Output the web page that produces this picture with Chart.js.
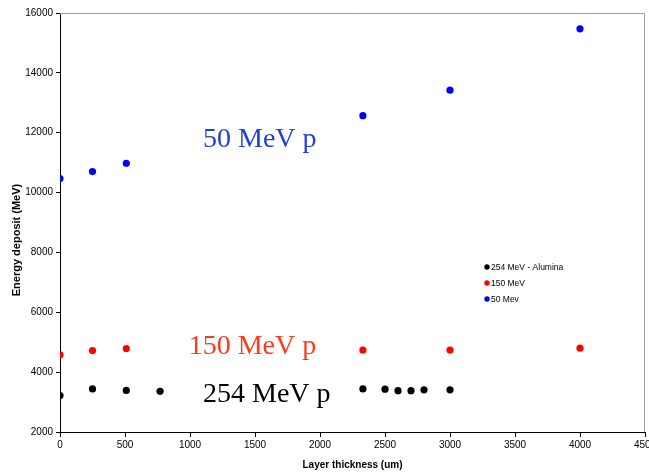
<!DOCTYPE html>
<html>
<head>
<meta charset="utf-8">
<script src="https://cdn.jsdelivr.net/npm/chart.js@4/dist/chart.umd.min.js"></script>
<style>
  html, body { margin: 0; padding: 0; background: #fff; }
  #wrap { width: 649px; height: 472px; }
</style>
</head>
<body>
<div id="wrap"><canvas id="energie"></canvas></div>
<script>
// thickness (um) / energy deposit (MeV)
const x254 = [0, 250, 510, 770, 2330, 2500, 2600, 2700, 2800, 3000];
const y254 = [3220, 3440, 3390, 3360, 3440, 3430, 3380, 3380, 3410, 3410];
const x150 = [0, 250, 510, 2330, 3000, 4000];
const y150 = [4580, 4720, 4790, 4740, 4740, 4800];
const x50 = [0, 250, 510, 2330, 3000, 4000];
const y50 = [10470, 10700, 10980, 12570, 13420, 15470];

const xTicks = [0, 500, 1000, 1500, 2000, 2500, 3000, 3500, 4000, 4500];
const yTicks = [2000, 4000, 6000, 8000, 10000, 12000, 14000, 16000];

const toPts = (xs, ys) => xs.map((x, i) => ({x: x, y: ys[i]}));

const ctx = document.getElementById('energie');

// big labels written on the plot
const notes = [
  {text: '50 MeV p', x: 1100, y: 11530, color: '#1f3fd6'},
  {text: '150 MeV p', x: 990, y: 4590, color: '#ff3a1a'},
  {text: '254 MeV p', x: 1100, y: 3010, color: '#000000'}
];

const extras = {
  id: 'extras',
  afterDraw(chart) {
    const c = chart.ctx;
    const a = chart.chartArea;
    const sx = chart.scales.x, sy = chart.scales.y;
    c.save();
    // grey frame top + right
    c.strokeStyle = '#a0a0a0';
    c.lineWidth = 1;
    c.beginPath();
    c.moveTo(a.left, a.top + 0.5);
    c.lineTo(a.right - 0.5, a.top + 0.5);
    c.lineTo(a.right - 0.5, a.bottom);
    c.stroke();

    // y axis title, sits a bit below the middle like the original
    c.save();
    c.translate(17, 240);
    c.rotate(-Math.PI / 2);
    c.font = 'bold 11px "Liberation Sans", Arial, sans-serif';
    c.fillStyle = '#000';
    c.textAlign = 'center';
    c.textBaseline = 'middle';
    c.fillText('Energy deposit (MeV)', 0, 0);
    c.restore();

    // notes
    c.font = '28px "Liberation Serif", "Times New Roman", serif';
    c.textBaseline = 'alphabetic';
    c.textAlign = 'left';
    notes.forEach(n => {
      c.fillStyle = n.color;
      c.fillText(n.text, sx.getPixelForValue(n.x), sy.getPixelForValue(n.y));
    });

    // legend
    c.font = '8.5px "Liberation Sans", Arial, sans-serif';
    c.textBaseline = 'middle';
    chart.data.datasets.forEach((ds, k) => {
      const ly = 267 + k * 16;
      c.fillStyle = ds.backgroundColor;
      c.beginPath();
      c.arc(487, ly, 2.7, 0, Math.PI * 2);
      c.fill();
      c.fillStyle = '#000';
      c.fillText(ds.label, 491, ly + 0.5);
    });
    c.restore();
  }
};

const tickFont = {family: '"Liberation Sans", Arial, sans-serif', size: 10};
const titleFont = {family: '"Liberation Sans", Arial, sans-serif', size: 10, weight: 'bold'};

new Chart(ctx, {
  type: 'scatter',
  data: {
    datasets: [
      {
        label: '254 MeV - Alumina',
        data: toPts(x254, y254),
        backgroundColor: '#000000',
        borderColor: '#000000'
      },
      {
        label: '150 MeV',
        data: toPts(x150, y150),
        backgroundColor: '#ff0000',
        borderColor: '#ff0000'
      },
      {
        label: '50 Mev',
        data: toPts(x50, y50),
        backgroundColor: '#0000ff',
        borderColor: '#0000ff'
      }
    ]
  },
  options: {
    responsive: true,
    maintainAspectRatio: false,
    animation: false,
    events: [],
    elements: {
      point: {radius: 3.6, borderWidth: 0}
    },
    layout: {padding: {top: 13, right: 3, left: 0, bottom: 0}},
    plugins: {
      legend: {display: false},
      tooltip: {enabled: false}
    },
    scales: {
      x: {
        type: 'linear',
        min: 0,
        max: 4500,
        afterBuildTicks: (s) => { s.ticks = xTicks.map(v => ({value: v})); },
        afterFit: (s) => { s.height = 40; s.paddingRight = 0; s.paddingLeft = 0; },
        ticks: {color: '#000', font: tickFont, padding: 2, maxRotation: 0, callback: (v) => String(v)},
        grid: {drawOnChartArea: false, color: '#000', tickLength: 5},
        border: {color: '#000', width: 1},
        title: {display: true, text: 'Layer thickness (um)', color: '#000', font: titleFont, padding: {top: 0, bottom: 1}}
      },
      y: {
        min: 2000,
        max: 16000,
        afterBuildTicks: (s) => { s.ticks = yTicks.map(v => ({value: v})); },
        afterFit: (s) => { s.width = 60; s.paddingTop = 0; s.paddingBottom = 0; },
        ticks: {color: '#000', font: tickFont, padding: 3, callback: (v) => String(v)},
        grid: {drawOnChartArea: false, color: '#000', tickLength: 4},
        border: {color: '#000', width: 1}
      }
    }
  },
  plugins: [extras]
});
</script>
</body>
</html>
